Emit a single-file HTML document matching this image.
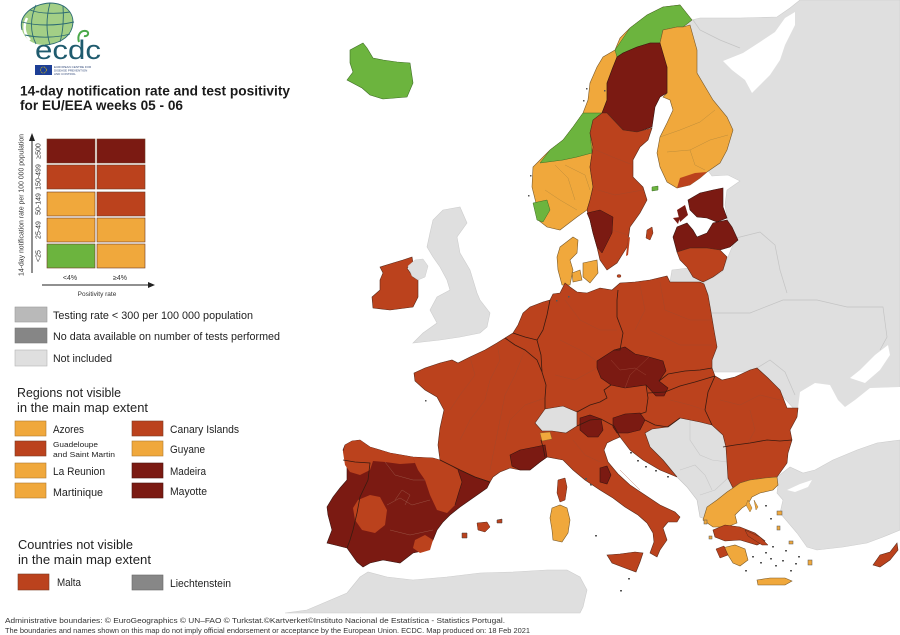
<!DOCTYPE html>
<html><head><meta charset="utf-8"><style>
html,body{margin:0;padding:0;background:#fff;}
body{width:900px;height:635px;overflow:hidden;}
svg{display:block;font-family:"Liberation Sans",Arial,sans-serif;}
</style></head><body>
<svg width="900" height="635" viewBox="0 0 900 635" xmlns="http://www.w3.org/2000/svg">
<rect width="900" height="635" fill="#fff"/>

<!-- ===== GREY NON-INCLUDED LAND ===== -->
<g fill="#dfdfdf" stroke="#cdcdcd" stroke-width="0.6">
<path d="M683,22 L700,18 L740,18 L777,17 L790,8 L800,0 L900,0 L900,445 L795,445 L797,412 L760,372 L712,372 L712,340 L707,300 L703,283 L722,272 L730,252 L736,238 L728,222 L725,205 L727,190 L740,181 L728,175 L712,176 L706,168 L722,150 L728,128 L712,100 L696,72 L695,48 Z"/>
<path d="M443,210 L460,207 L467,223 L457,237 L460,253 L470,270 L477,293 L480,300 L490,313 L487,327 L480,333 L460,337 L440,340 L413,343 L423,333 L437,323 L430,310 L437,297 L450,290 L447,280 L440,267 L433,257 L427,247 L430,233 L433,220 L440,213 Z"/>
<path d="M285,613 L307,610 L347,593 L360,577 L368,572 L387,577 L413,580 L447,577 L480,573 L513,572 L547,570 L567,570 L580,577 L587,590 L583,607 L580,613 Z"/>
<path d="M672,270 L688,268 L695,272 L703,282 L700,283 L670,282 Z"/>
</g>
<!-- seas cut into grey -->
<g fill="#fff">
<path d="M723,61 L743,53 L760,42 L775,32 L785,18 L795,12 L795,25 L785,45 L780,60 L770,75 L760,85 L752,93 L745,80 L732,70 Z"/>
<path d="M798,408 L800,392 L815,383 L830,385 L838,400 L845,407 L855,400 L870,388 L900,387 L900,440 L877,443 L857,450 L833,460 L815,470 L803,473 L790,467 L787,463 L788,453 L792,440 L790,430 L797,417 Z"/>
<path d="M850,378 L860,370 L875,355 L888,345 L890,355 L880,370 L865,383 Z"/>
</g>
<!-- faint borders in grey lands -->
<g fill="none" stroke="#c4c4c4" stroke-width="0.7">
<path d="M712,313 L750,313 L783,300 L817,300 L847,307 L883,307 L887,337 L880,350"/>
<path d="M736,238 L760,232 L775,245 L780,270 L787,293"/>
<path d="M757,368 L770,360 L785,372 L795,395"/>
<path d="M693,20 L700,30 L720,40 L740,48"/>
</g>
<!-- Turkey -->
<path d="M777,477 L790,467 L803,473 L815,470 L833,460 L857,450 L877,443 L900,440 L900,530 L883,537 L867,543 L843,547 L817,550 L807,547 L797,533 L780,513 L783,500 L777,493 L778,485 Z" fill="#dfdfdf" stroke="#cdcdcd" stroke-width="0.6"/>
<path d="M787,490 L800,484 L812,480 L808,487 L795,492 Z" fill="#fff"/>

<!-- ===== EU / EEA ===== -->
<!-- Iceland -->
<path d="M350,50 L363,43 L367,48 L373,58 L383,60 L397,62 L410,63 L413,83 L407,97 L383,99 L370,95 L362,88 L347,80 L353,72 L350,63 Z" fill="#6cb43e" stroke="#3e6e25" stroke-width="0.6"/>
<!-- Ireland -->
<path d="M380,267 L393,263 L403,260 L412,257 L413,263 L407,268 L413,277 L418,280 L418,297 L413,307 L390,310 L373,308 L372,297 L380,290 L380,280 L383,273 Z" fill="#bb421d" stroke="#5b2a1a" stroke-width="0.6"/>
<path d="M408,266 L415,260 L423,259 L428,266 L425,277 L418,280 L412,276 Z" fill="#dfdfdf" stroke="#cdcdcd" stroke-width="0.5"/>

<!-- Norway -->
<path d="M692,20 L680,5 L663,7 L647,15 L630,28 L620,38 L615,50 L603,57 L597,67 L590,83 L588,100 L583,113 L573,127 L563,140 L550,150 L540,160 L533,167 L532,187 L537,207 L538,220 L547,227 L560,230 L577,217 L587,210 L590,200 L593,187 L590,167 L593,147 L590,133 L593,120 L602,113 L607,100 L607,83 L613,67 L623,53 L637,47 L650,43 L660,43 L663,30 L677,27 L683,27 Z" fill="#f0a83c" stroke="#7a5a2a" stroke-width="0.6"/>
<g fill="#6cb43e" stroke="#3e6e25" stroke-width="0.5">
<path d="M615,50 L630,28 L647,15 L663,7 L680,5 L692,20 L683,27 L677,27 L663,30 L660,43 L650,43 L637,47 L623,53 L617,57 Z"/>
<path d="M573,127 L583,113 L602,113 L593,120 L590,133 L592,153 L577,157 L563,160 L540,163 L550,150 L563,140 Z"/>
<path d="M533,203 L547,200 L550,210 L543,222 L537,220 Z"/>
<path d="M652,187 L658,186 L658,190 L652,191 Z"/>
</g>
<g fill="none" stroke="#b88a3a" stroke-width="0.45">
<path d="M555,165 L568,178 L575,200"/>
<path d="M545,190 L560,200 L577,210"/>
<path d="M565,165 L585,175 L590,190"/>
</g>
<!-- Finland -->
<path d="M650,43 L660,43 L663,30 L677,27 L683,27 L690,25 L697,50 L697,73 L713,100 L727,117 L733,130 L727,150 L720,163 L707,172 L700,178 L690,185 L677,188 L667,182 L660,167 L657,153 L660,137 L667,123 L673,110 L670,100 L663,97 L667,93 L667,67 Z" fill="#f0a83c" stroke="#7a5a2a" stroke-width="0.6"/>
<path d="M680,178 L695,173 L707,172 L700,178 L690,185 L677,188 Z" fill="#bb421d"/>
<g fill="none" stroke="#b88a3a" stroke-width="0.45">
<path d="M660,137 L680,130 L700,122 L715,110"/>
<path d="M667,152 L690,150 L710,140 L728,135"/>
<path d="M690,150 L695,165 L705,170"/>
</g>
<!-- Sweden -->
<path d="M617,57 L623,53 L637,47 L650,43 L660,43 L667,67 L667,93 L660,97 L655,107 L652,127 L637,132 L623,130 L607,113 L602,113 L607,100 L607,83 L613,67 Z" fill="#7b1a12" stroke="#3a1410" stroke-width="0.6"/>
<path d="M602,113 L607,113 L623,130 L637,132 L652,128 L648,140 L640,147 L633,160 L633,177 L643,187 L647,200 L640,213 L630,227 L627,247 L617,263 L607,270 L600,260 L597,247 L593,233 L590,220 L587,210 L590,200 L593,187 L590,167 L593,147 L590,133 L593,120 Z" fill="#bb421d" stroke="#5b2a1a" stroke-width="0.6"/>
<g fill="none" stroke="#9c4a30" stroke-width="0.45" opacity="0.7">
<path d="M596,150 L615,158 L633,165"/>
<path d="M598,190 L615,195 L643,190"/>
<path d="M612,230 L628,235"/>
</g>
<path d="M587,213 L600,210 L613,217 L612,233 L605,247 L602,253 L597,247 L593,233 L590,220 Z" fill="#7b1a12" stroke="#3a1410" stroke-width="0.5"/>
<path d="M647,230 L652,227 L653,233 L650,240 L646,238 Z" fill="#bb421d" stroke="#5b2a1a" stroke-width="0.5"/>
<path d="M628,238 L630,237 L628,255 L626,256 Z" fill="#bb421d"/>
<ellipse cx="619" cy="276" rx="2" ry="1.5" fill="#bb421d" stroke="#5b2a1a" stroke-width="0.4"/>
<!-- Denmark -->
<g fill="#f0a83c" stroke="#7a5a2a" stroke-width="0.6">
<path d="M560,247 L573,237 L578,240 L577,253 L570,260 L573,270 L570,285 L562,285 L558,270 L557,257 Z"/>
<path d="M583,263 L597,260 L598,273 L590,283 L583,277 Z"/>
<path d="M572,273 L580,270 L582,280 L573,282 Z"/>
</g>
<!-- Baltics -->
<path d="M688,200 L700,193 L713,190 L723,188 L723,207 L727,218 L717,222 L707,218 L697,217 L690,210 Z" fill="#7b1a12" stroke="#3a1410" stroke-width="0.6"/>
<path d="M677,210 L685,205 L688,215 L680,222 Z M673,218 L680,217 L678,224 Z" fill="#7b1a12"/>
<path d="M673,237 L677,227 L687,223 L693,230 L697,237 L707,233 L713,223 L727,220 L732,227 L738,240 L730,247 L720,250 L707,248 L690,248 L677,252 Z" fill="#7b1a12" stroke="#3a1410" stroke-width="0.6"/>
<path d="M677,252 L690,248 L707,248 L720,250 L727,257 L723,270 L713,277 L703,282 L693,277 L687,267 L680,260 Z" fill="#bb421d" stroke="#5b2a1a" stroke-width="0.6"/>

<!-- Balkans grey -->
<path d="M645,433 L652,429 L667,427 L680,418 L690,420 L700,422 L712,425 L723,435 L726,447 L727,462 L728,478 L733,488 L727,500 L720,507 L707,520 L700,517 L697,500 L687,487 L677,477 L663,460 L650,447 Z" fill="#dfdfdf" stroke="#c4c4c4" stroke-width="0.6"/>
<g fill="none" stroke="#c8c8c8" stroke-width="0.6">
<path d="M690,420 L690,440 L700,455 L712,460 L727,462"/>
<path d="M680,470 L695,465 L705,475 L712,490"/>
<path d="M700,495 L715,490 L728,478"/>
</g>

<!-- Continental block -->
<path d="M440,460 L438,445 L440,428 L444,410 L437,397 L425,390 L415,381 L414,373 L425,368 L440,363 L452,360 L458,363 L470,357 L485,350 L497,343 L505,338 L513,333 L518,325 L523,313 L530,307 L543,302 L550,300 L553,294 L560,293 L565,283 L570,287 L577,292 L587,293 L600,288 L612,290 L620,283 L635,282 L650,280 L667,276 L670,282 L700,282 L704,284 L708,295 L711,312 L714,330 L717,347 L712,360 L712,368 L715,376 L722,380 L735,377 L750,370 L757,368 L768,378 L780,390 L787,408 L798,408 L797,417 L790,430 L792,440 L788,453 L787,463 L777,477 L765,478 L750,480 L740,483 L733,488 L728,478 L727,462 L726,447 L723,435 L712,425 L700,422 L690,420 L680,418 L667,427 L652,429 L645,433 L650,447 L663,460 L677,477 L660,470 L643,460 L630,450 L620,437 L613,440 L607,443 L604,450 L608,462 L618,474 L630,485 L645,495 L660,505 L675,512 L680,517 L677,522 L668,522 L663,528 L667,540 L660,550 L657,557 L650,553 L654,542 L653,533 L647,523 L638,515 L625,507 L613,498 L600,490 L585,480 L573,470 L563,460 L547,457 L540,462 L530,470 L520,470 L510,468 L500,472 L493,477 L490,482 L475,477 L460,470 L450,465 Z" fill="#bb421d" stroke="#5b2a1a" stroke-width="0.6"/>

<!-- Iberia -->
<path d="M490,482 L487,488 L480,493 L470,500 L460,507 L450,515 L443,522 L437,530 L433,540 L427,550 L413,553 L400,563 L383,560 L370,563 L363,567 L357,562 L347,548 L335,545 L327,543 L332,530 L328,515 L327,507 L333,497 L340,488 L347,480 L347,463 L343,450 L345,445 L352,441 L360,440 L370,447 L390,453 L413,457 L433,458 L440,460 L450,465 L460,470 L475,477 Z" fill="#7b1a12" stroke="#3a1410" stroke-width="0.6"/>
<g fill="#bb421d">
<path d="M345,445 L352,441 L360,440 L370,447 L390,453 L413,457 L415,463 L400,464 L385,462 L373,461 L370,470 L360,475 L350,472 L345,465 L343,452 Z"/>
<path d="M413,457 L433,458 L440,460 L450,465 L458,470 L462,482 L458,495 L455,505 L447,513 L437,510 L430,495 L425,480 L418,470 L415,463 Z"/>
<path d="M358,500 L370,495 L380,497 L387,510 L385,525 L375,533 L362,530 L355,520 L353,508 Z"/>
<path d="M415,540 L425,535 L433,540 L430,550 L420,553 L413,548 Z"/>
</g>
<g fill="none" stroke="#a06050" stroke-width="0.5" opacity="0.8">
<path d="M385,462 L395,475 L413,480 L425,480"/>
<path d="M387,505 L400,498 L412,505 L430,500"/>
<path d="M390,530 L410,535 L433,530"/>
<path d="M395,500 L402,490 L410,495 L405,505"/>
</g>
<path d="M458,470 L462,482 L458,495 L455,505" fill="none" stroke="#3a1410" stroke-width="0.6"/>

<!-- dark red regions -->
<g fill="#7b1a12" stroke="#3a1410" stroke-width="0.6">
<path d="M597,361 L614,350 L625,347 L635,354 L649,357 L663,361 L666,371 L659,381 L668,388 L664,396 L656,396 L646,385 L625,388 L611,385 L601,378 L597,368 Z"/>
<path d="M580,418 L590,415 L601,419 L603,430 L598,437 L588,437 L580,430 Z"/>
<path d="M613,418 L625,414 L640,413 L645,420 L640,430 L628,433 L617,433 L613,427 Z"/>
<path d="M510,455 L520,450 L535,447 L545,445 L547,457 L540,462 L530,470 L520,470 L512,466 Z"/>
<path d="M600,468 L607,466 L611,475 L607,484 L600,482 Z"/>
</g>
<g fill="none" stroke="#a04a3a" stroke-width="0.4">
<path d="M611,360 L620,370 L635,368 L646,375"/>
<path d="M625,388 L630,375 L649,357"/>
</g>
<!-- Switzerland -->
<path d="M535,423 L545,409 L563,406 L577,412 L577,426 L566,433 L552,431 L542,431 Z" fill="#dfdfdf" stroke="#5b2a1a" stroke-width="0.6"/>
<path d="M540,433 L550,432 L552,439 L542,441 Z" fill="#f0a83c" stroke="#7a5a2a" stroke-width="0.4"/>

<!-- regional light lines -->
<g fill="none" stroke="#9c4a30" stroke-width="0.45" opacity="0.7">
<path d="M470,357 L475,375 L460,395 L450,410"/>
<path d="M497,343 L500,360 L490,380 L485,400 L470,420 L460,440"/>
<path d="M525,350 L515,375 L505,395 L500,420 L495,445 L490,470"/>
<path d="M545,398 L525,405 L510,420 L505,440"/>
<path d="M565,300 L580,320 L600,330 L617,330"/>
<path d="M560,340 L580,350 L597,361"/>
<path d="M555,375 L575,380 L597,368"/>
<path d="M640,285 L645,310 L635,330"/>
<path d="M660,282 L665,310 L690,320 L712,320"/>
<path d="M650,330 L680,345 L712,345"/>
<path d="M720,400 L740,405 L760,395 L780,400"/>
<path d="M750,410 L755,430 L748,443"/>
<path d="M573,440 L585,455 L600,462"/>
<path d="M620,470 L640,490"/>
<path d="M670,400 L690,405 L705,410"/>
</g>
<!-- country borders -->
<g fill="none" stroke="#3a1a10" stroke-width="0.8">
<path d="M505,338 L515,345 L525,350 L537,360 L542,372 L546,385 L545,398 L545,409"/>
<path d="M513,333 L525,337 L537,340"/>
<path d="M550,300 L547,315 L543,330 L537,340 L541,355 L542,372"/>
<path d="M618,290 L617,300 L617,317 L623,333 L620,350 L614,350"/>
<path d="M577,412 L590,405 L600,402 L607,398 L604,390 L611,385"/>
<path d="M659,381 L668,374 L685,371 L700,370 L712,368"/>
<path d="M646,385 L648,398 L646,412 L640,414"/>
<path d="M648,393 L665,392 L680,386 L695,382 L715,376"/>
<path d="M715,376 L708,392 L705,410 L712,425"/>
<path d="M645,420 L655,425 L668,427 L680,418"/>
<path d="M577,426 L590,420 L601,419 L614,426 L620,437"/>
<path d="M723,447 L735,445 L750,443 L767,440 L780,441 L792,440"/>
<path d="M545,457 L543,447 L541,440"/>
<path d="M343,460 L355,462 L370,463 L368,480 L360,497 L357,513 L353,530 L350,540 L347,548"/>
<path d="M440,460 L450,465 L460,470 L475,477 L490,482"/>
</g>

<!-- Mediterranean islands -->
<path d="M552,508 L560,505 L567,508 L570,520 L568,533 L562,542 L553,540 L552,530 L550,518 Z" fill="#f0a83c" stroke="#7a5a2a" stroke-width="0.6"/>
<path d="M558,480 L565,478 L567,487 L565,500 L560,502 L557,493 Z" fill="#bb421d" stroke="#5b2a1a" stroke-width="0.5"/>
<path d="M607,555 L620,554 L635,552 L643,553 L640,562 L636,572 L625,568 L612,563 Z" fill="#bb421d" stroke="#5b2a1a" stroke-width="0.6"/>
<path d="M477,523 L487,522 L490,527 L485,532 L478,530 Z" fill="#bb421d" stroke="#5b2a1a" stroke-width="0.5"/>
<path d="M497,520 L502,519 L502,523 L497,523 Z M462,533 L467,533 L467,538 L462,538 Z" fill="#bb421d" stroke="#3a3a3a" stroke-width="0.5"/>
<path d="M873,565 L880,555 L890,552 L897,543 L898,550 L890,560 L880,567 Z" fill="#bb421d" stroke="#5b2a1a" stroke-width="0.6"/>

<!-- Greece -->
<path d="M703,520 L707,507 L717,500 L727,492 L733,488 L740,483 L750,480 L765,478 L777,477 L778,485 L773,490 L760,493 L752,497 L748,504 L742,508 L735,515 L737,523 L727,527 L713,527 Z" fill="#f0a83c" stroke="#7a5a2a" stroke-width="0.6"/>
<path d="M748,500 L752,508 L750,512 L746,505 Z M754,500 L758,507 L756,510 Z" fill="#f0a83c" stroke="#7a5a2a" stroke-width="0.4"/>
<path d="M713,530 L725,525 L740,527 L755,533 L765,541 L757,545 L740,540 L725,541 L715,537 Z" fill="#bb421d" stroke="#5b2a1a" stroke-width="0.6"/>
<path d="M745,530 L760,537 L768,545 L762,545 L748,536 Z" fill="#bb421d" stroke="#5b2a1a" stroke-width="0.5"/>
<path d="M722,548 L735,545 L745,549 L748,560 L740,566 L733,563 L728,555 Z" fill="#f0a83c" stroke="#7a5a2a" stroke-width="0.6"/>
<path d="M716,549 L724,546 L728,555 L720,558 Z" fill="#bb421d" stroke="#5b2a1a" stroke-width="0.5"/>
<path d="M757,580 L770,578 L785,578 L792,581 L785,585 L770,585 L758,585 Z" fill="#f0a83c" stroke="#7a5a2a" stroke-width="0.6"/>
<g fill="#f0a83c" stroke="#555" stroke-width="0.5">
<rect x="777" y="511" width="5" height="4"/>
<rect x="777" y="526" width="3" height="4"/>
<rect x="789" y="541" width="4" height="3"/>
<rect x="808" y="560" width="4" height="5"/>
<rect x="704" y="520" width="3" height="4"/>
<rect x="709" y="536" width="3" height="3"/>
</g>
<g fill="#555">
<rect x="765" y="552" width="2" height="1.5"/><rect x="770" y="558" width="2" height="1.5"/>
<rect x="775" y="565" width="2" height="1.5"/><rect x="782" y="560" width="2" height="1.5"/>
<rect x="760" y="562" width="2" height="1.5"/><rect x="798" y="556" width="2" height="1.5"/>
<rect x="790" y="570" width="2" height="1.5"/><rect x="785" y="550" width="2" height="1.5"/>
<rect x="795" y="563" width="2" height="1.5"/><rect x="772" y="546" width="2" height="1.5"/>
<rect x="765" y="505" width="2" height="1.5"/><rect x="770" y="518" width="2" height="1.5"/>
<rect x="745" y="570" width="2" height="1.5"/><rect x="752" y="556" width="2" height="1.5"/>
<rect x="630" y="452" width="2" height="1.5"/><rect x="637" y="460" width="2" height="1.5"/>
<rect x="645" y="466" width="2" height="1.5"/><rect x="655" y="470" width="2" height="1.5"/>
<rect x="667" y="476" width="2" height="1.5"/><rect x="628" y="578" width="2" height="1.5"/>
<rect x="585" y="478" width="2" height="1.5"/><rect x="590" y="484" width="2" height="1.5"/>
<rect x="595" y="535" width="2" height="1.5"/><rect x="620" y="590" width="2" height="1.5"/>
<rect x="586" y="88" width="1.5" height="1.5"/><rect x="583" y="100" width="1.5" height="1.5"/>
<rect x="530" y="175" width="1.5" height="1.5"/><rect x="528" y="195" width="1.5" height="1.5"/>
<rect x="556" y="300" width="1.5" height="1.5"/><rect x="568" y="296" width="1.5" height="1.5"/>
<rect x="604" y="90" width="1.5" height="1.5"/><rect x="425" y="400" width="1.5" height="1.5"/>
</g>

<!-- ===== LOGO ===== -->
<g>
<path d="M22,30 C18,16 32,4 50,3 C66,3 76,14 72,28 C69,38 58,44 45,45 C34,45 25,40 22,30 Z" fill="#a3cf86"/>
<path d="M30,40 C24,34 23,26 27,18" fill="none" stroke="#fff" stroke-width="2.5"/>
<g fill="none" stroke="#2d6b73" stroke-width="0.9">
<path d="M22,30 C18,16 32,4 50,3 C66,3 76,14 72,28 C69,38 58,44 45,45"/>
<path d="M30,10 C40,14 58,14 70,12"/>
<path d="M22,22 C36,26 56,26 74,22"/>
<path d="M25,35 C38,38 56,38 70,34"/>
<path d="M36,5 C30,18 30,32 36,44"/>
<path d="M50,3 C46,18 46,32 50,45"/>
<path d="M63,6 C64,18 63,32 60,42"/>
</g>
<text x="35" y="59" font-size="27" fill="#1f5b6e" textLength="66" lengthAdjust="spacingAndGlyphs">ecdc</text>
<path d="M79,42 C77,36 80,30 86,31 C90,32 88,37 84,36" fill="none" stroke="#4aa84a" stroke-width="2"/>
<rect x="35" y="65" width="17" height="10" fill="#1d3f96"/>
<circle cx="43.5" cy="70" r="3" fill="none" stroke="#f0d000" stroke-width="0.8" stroke-dasharray="0.8 0.8"/>
<g font-size="3" fill="#334a7a">
<text x="54" y="68">EUROPEAN CENTRE FOR</text>
<text x="54" y="71.5">DISEASE PREVENTION</text>
<text x="54" y="75">AND CONTROL</text>
</g>
</g>

<!-- ===== TITLE ===== -->
<text x="20" y="95.5" font-size="13.5" font-weight="bold" fill="#1a1a1a" textLength="270" lengthAdjust="spacingAndGlyphs">14-day notification rate and test positivity</text>
<text x="20" y="110" font-size="13.5" font-weight="bold" fill="#1a1a1a" textLength="163" lengthAdjust="spacingAndGlyphs">for EU/EEA weeks 05 - 06</text>

<!-- ===== MATRIX LEGEND ===== -->
<g stroke="#6e3a20" stroke-width="0.6">
<rect x="47" y="139" width="48" height="24" fill="#7b1a12"/>
<rect x="97" y="139" width="48" height="24" fill="#7b1a12"/>
<rect x="47" y="165" width="48" height="24" fill="#bb421d"/>
<rect x="97" y="165" width="48" height="24" fill="#bb421d"/>
<rect x="47" y="192" width="48" height="24" fill="#f0a83c"/>
<rect x="97" y="192" width="48" height="24" fill="#bb421d"/>
<rect x="47" y="218" width="48" height="24" fill="#f0a83c"/>
<rect x="97" y="218" width="48" height="24" fill="#f0a83c"/>
<rect x="47" y="244" width="48" height="24" fill="#6cb43e"/>
<rect x="97" y="244" width="48" height="24" fill="#f0a83c"/>
</g>
<g font-size="7" fill="#333" text-anchor="middle">
<text transform="translate(40.5,151) rotate(-90)">≥500</text>
<text transform="translate(40.5,177) rotate(-90)">150-499</text>
<text transform="translate(40.5,204) rotate(-90)">50-149</text>
<text transform="translate(40.5,230) rotate(-90)">25-49</text>
<text transform="translate(40.5,256) rotate(-90)">&lt;25</text>
<text transform="translate(23.5,205) rotate(-90)" textLength="142" lengthAdjust="spacingAndGlyphs">14-day notification rate per 100 000 population</text>
<text x="70" y="280">&lt;4%</text>
<text x="120" y="280">≥4%</text>
<text x="97" y="296" font-size="6.5">Positivity rate</text>
</g>
<line x1="32" y1="273" x2="32" y2="138" stroke="#222" stroke-width="1"/>
<path d="M29,141 L35,141 L32,133 Z" fill="#222"/>
<line x1="42" y1="285" x2="149" y2="285" stroke="#222" stroke-width="1"/>
<path d="M148,282 L148,288 L155,285 Z" fill="#222"/>

<!-- ===== GREY LEGEND ===== -->
<rect x="15" y="307" width="32" height="15" fill="#b9b9b9" stroke="#999" stroke-width="0.6"/>
<rect x="15" y="328" width="32" height="15" fill="#868686" stroke="#777" stroke-width="0.6"/>
<rect x="15" y="350" width="32" height="16" fill="#dfdfdf" stroke="#b5b5b5" stroke-width="0.6"/>
<g font-size="11" fill="#222">
<text x="53" y="319" textLength="200" lengthAdjust="spacingAndGlyphs">Testing rate &lt; 300 per 100 000 population</text>
<text x="53" y="340" textLength="227" lengthAdjust="spacingAndGlyphs">No data available on number of tests performed</text>
<text x="53" y="362" textLength="59" lengthAdjust="spacingAndGlyphs">Not included</text>
</g>

<!-- ===== REGIONS ===== -->
<g font-size="13" fill="#222">
<text x="17" y="397" textLength="104" lengthAdjust="spacingAndGlyphs">Regions not visible</text>
<text x="17" y="412" textLength="131" lengthAdjust="spacingAndGlyphs">in the main map extent</text>
<text x="18" y="549" textLength="115" lengthAdjust="spacingAndGlyphs">Countries not visible</text>
<text x="18" y="564" textLength="133" lengthAdjust="spacingAndGlyphs">in the main map extent</text>
</g>
<g stroke-width="0.6">
<rect x="15" y="421" width="31" height="15" fill="#f0a83c" stroke="#b07a30"/>
<rect x="15" y="441" width="31" height="15" fill="#bb421d" stroke="#7a3a20"/>
<rect x="15" y="463" width="31" height="15" fill="#f0a83c" stroke="#b07a30"/>
<rect x="15" y="483" width="31" height="15" fill="#f0a83c" stroke="#b07a30"/>
<rect x="132" y="421" width="31" height="15" fill="#bb421d" stroke="#7a3a20"/>
<rect x="132" y="441" width="31" height="15" fill="#f0a83c" stroke="#b07a30"/>
<rect x="132" y="463" width="31" height="15" fill="#7b1a12" stroke="#4a1410"/>
<rect x="132" y="483" width="31" height="15" fill="#7b1a12" stroke="#4a1410"/>
<rect x="18" y="574" width="31" height="16" fill="#bb421d" stroke="#7a3a20"/>
<rect x="132" y="575" width="31" height="15" fill="#878787" stroke="#666"/>
</g>
<g font-size="11" fill="#222">
<text x="53" y="433" textLength="31" lengthAdjust="spacingAndGlyphs">Azores</text>
<text x="53" y="475" textLength="52" lengthAdjust="spacingAndGlyphs">La Reunion</text>
<text x="53" y="496" textLength="50" lengthAdjust="spacingAndGlyphs">Martinique</text>
<text x="170" y="433" textLength="69" lengthAdjust="spacingAndGlyphs">Canary Islands</text>
<text x="170" y="453" textLength="35" lengthAdjust="spacingAndGlyphs">Guyane</text>
<text x="170" y="475" textLength="36" lengthAdjust="spacingAndGlyphs">Madeira</text>
<text x="170" y="495" textLength="37" lengthAdjust="spacingAndGlyphs">Mayotte</text>
<text x="57" y="586" textLength="24" lengthAdjust="spacingAndGlyphs">Malta</text>
<text x="170" y="587" textLength="61" lengthAdjust="spacingAndGlyphs">Liechtenstein</text>
</g>
<g font-size="7.5" fill="#222">
<text x="53" y="447" textLength="45" lengthAdjust="spacingAndGlyphs">Guadeloupe</text>
<text x="53" y="457" textLength="62" lengthAdjust="spacingAndGlyphs">and Saint Martin</text>
</g>

<!-- ===== FOOTER ===== -->
<g font-size="7.5" fill="#333">
<text x="5" y="623" textLength="500" lengthAdjust="spacingAndGlyphs">Administrative boundaries: © EuroGeographics © UN–FAO © Turkstat.©Kartverket©Instituto Nacional de Estatística - Statistics Portugal.</text>
<text x="5" y="633" textLength="525" lengthAdjust="spacingAndGlyphs">The boundaries and names shown on this map do not imply official endorsement or acceptance by the European Union. ECDC. Map produced on: 18 Feb 2021</text>
</g>
</svg>
</body></html>
